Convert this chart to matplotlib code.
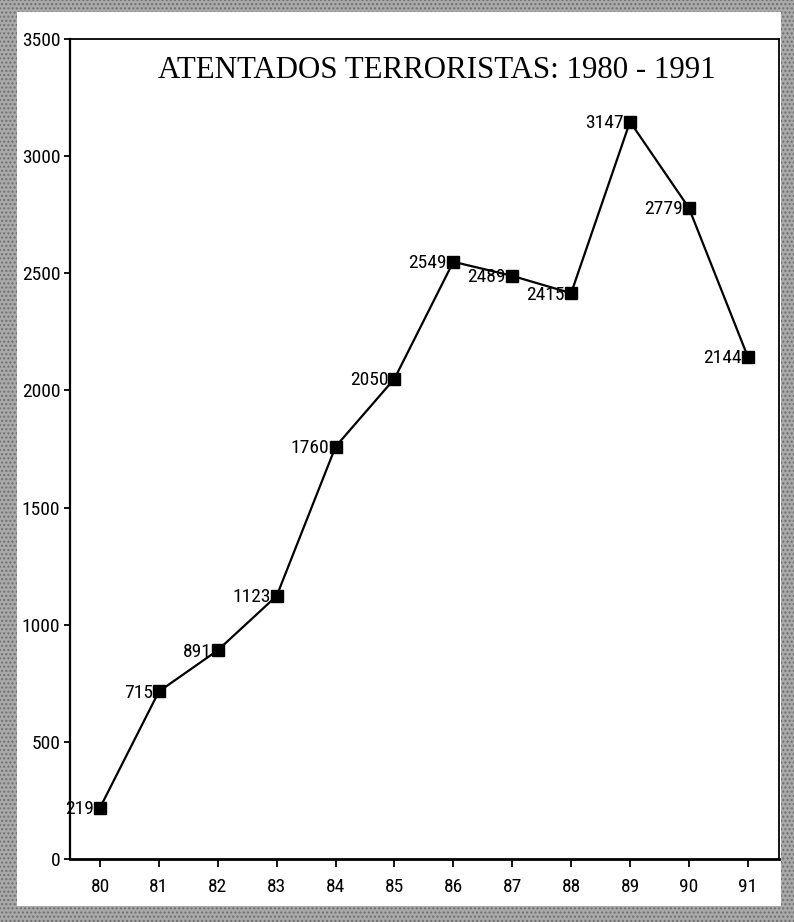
import matplotlib
matplotlib.use("Agg")
import matplotlib.pyplot as plt
from matplotlib.patches import Rectangle
from matplotlib import font_manager

years = ["80", "81", "82", "83", "84", "85", "86", "87", "88", "89", "90", "91"]
attacks = [219, 715, 891, 1123, 1760, 2050, 2549, 2489, 2415, 3147, 2779, 2144]
y_ticks = [0, 500, 1000, 1500, 2000, 2500, 3000, 3500]
title = "ATENTADOS TERRORISTAS: 1980 - 1991"

# pick a narrow font if one is installed
names = {f.name for f in font_manager.fontManager.ttflist}
narrow = None
for cand in ["Liberation Sans Narrow", "Roboto Condensed", "Open Sans Condensed",
             "Noto Sans Condensed", "DejaVu Sans Condensed"]:
    if cand in names:
        narrow = cand
        break
cond_dv = any(f.name == "DejaVu Sans" and str(f.stretch) in ("condensed", "semi-condensed")
              for f in font_manager.fontManager.ttflist)
if narrow:
    num_font = [narrow, "DejaVu Sans"]
    num_size = 14
    stretch = "normal"
elif cond_dv:
    num_font = ["DejaVu Sans"]
    num_size = 13.5
    stretch = "condensed"
else:
    num_font = ["Roboto", "DejaVu Sans"]
    num_size = 13
    stretch = "normal"

W, H = 794, 922
fig = plt.figure(figsize=(W / 100, H / 100), dpi=100)
fig.patch.set_facecolor("#a9a9a9")
fig.patches.append(Rectangle((0, 0), 1, 1, transform=fig.transFigure,
                             facecolor="none", edgecolor="#6e6e6e",
                             hatch="....", linewidth=0, zorder=0))
fig.patches.append(Rectangle((17 / W, 1 - 906 / H), (781 - 17) / W, (906 - 12) / H,
                             transform=fig.transFigure, facecolor="white",
                             edgecolor="none", zorder=1))

ax = fig.add_axes([70 / W, 1 - 859 / H, 709 / W, 820 / H])
ax.set_facecolor("white")
ax.set_zorder(2)

xs = list(range(len(years)))
ax.plot(xs, attacks, color="black", linewidth=1.6, marker="s",
        markersize=8.5, markerfacecolor="black", markeredgecolor="black")

for x, v in zip(xs, attacks):
    ax.annotate(str(v), (x, v), xytext=(-4.5, -1), textcoords="offset points",
                ha="right", va="center", fontsize=num_size, family=num_font,
                fontstretch=stretch, color="black")

ax.set_xlim(-0.51, 11.53)
ax.set_ylim(0, 3500)
ax.set_xticks(xs)
ax.set_xticklabels(years)
ax.set_yticks(y_ticks)
ax.set_yticklabels([str(t) for t in y_ticks])
for lbl in ax.get_xticklabels() + ax.get_yticklabels():
    lbl.set_family(num_font)
    lbl.set_fontsize(num_size)
    lbl.set_fontstretch(stretch)

ax.tick_params(axis="x", direction="out", length=6, width=1.3, pad=8)
ax.tick_params(axis="y", direction="out", length=4, width=1.3, pad=3)

ax.spines["left"].set_linewidth(1.6)
ax.spines["bottom"].set_linewidth(2.0)
ax.spines["top"].set_linewidth(1.3)
ax.spines["right"].set_linewidth(1.3)

fig.text(437 / W, 1 - 70 / H, title, ha="center", va="center",
         fontsize=22.2, family=["Liberation Serif", "DejaVu Serif"], color="black",
         zorder=3)

fig.savefig("out.png", dpi=100, facecolor=fig.get_facecolor())
